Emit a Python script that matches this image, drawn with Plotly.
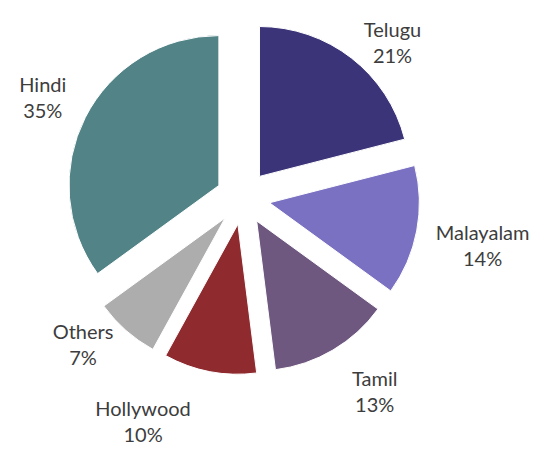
import plotly.graph_objects as go

labels = ["Telugu", "Malayalam", "Tamil", "Hollywood", "Others", "Hindi"]
values = [21, 14, 13, 10, 7, 35]
colors = ["#3b3479", "#7a71c2", "#6f587f", "#8f2a2f", "#adadad", "#528487"]

base = "%{label}<br>%{percent:.0%}"
templates = [
    base,                      # Telugu
    " <br>" + base,            # Malayalam
    " <br>" + base,            # Tamil
    " <br>" + base,            # Hollywood
    base,                      # Others
    base + "<br> ",            # Hindi
]

fig = go.Figure(go.Pie(
    labels=labels,
    values=values,
    sort=False,
    direction="clockwise",
    rotation=0,
    pull=0.18,
    automargin=False,
    marker=dict(colors=colors, line=dict(color="white", width=1)),
    texttemplate=templates,
    textposition="outside",
    textfont=dict(family="Lato", size=20, color="#3d3d3d"),
    showlegend=False,
    hoverinfo="label+percent",
    domain=dict(x=[0.120, 0.765], y=[0.173, 0.954]),
))
fig.update_layout(
    width=549, height=453,
    margin=dict(l=0, r=0, t=0, b=0),
    paper_bgcolor="white",
    plot_bgcolor="white",
)
fig.write_html("out.html")
